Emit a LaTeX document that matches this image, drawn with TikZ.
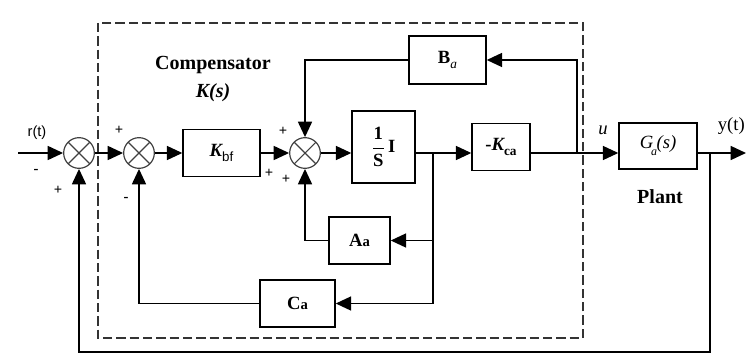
\documentclass[tikz,border=0pt]{standalone}
\usepackage{fontspec}
\setmainfont{Liberation Serif}
\newfontfamily\sansf{Liberation Sans}
\usetikzlibrary{arrows.meta}
\tikzset{
  blk/.style={draw, line width=1.1pt, inner sep=0pt, font=\fontsize{14}{16}\selectfont},
  sumj/.style={circle, draw=black!75, line width=0.9pt, minimum size=23pt, inner sep=0pt,
    path picture={\draw[black!75, line width=0.8pt] (path picture bounding box.north west) -- (path picture bounding box.south east)
      (path picture bounding box.north east) -- (path picture bounding box.south west);}},
  conn/.style={line width=1.1pt},
  arr/.style={line width=1.1pt, -{Triangle[length=11.5pt,width=10.5pt]}},
  sig/.style={font=\fontsize{11}{11}\selectfont\bfseries, inner sep=0pt},
  lbl/.style={font=\fontsize{15}{17}\selectfont\bfseries, inner sep=0pt}
}
\begin{document}
\begin{tikzpicture}[x=0.75pt,y=-0.75pt]
\useasboundingbox (0,0) rectangle (746,360);
% dashed compensator boundary
\draw[line width=1pt, dash pattern=on 7pt off 3pt, black!80] (98,23) rectangle (583,338);
% summing junctions
\node[sumj] (s1) at (79,153) {};
\node[sumj] (s2) at (139,153) {};
\node[sumj] (s3) at (305,153) {};
% blocks
\node[blk, minimum width=57.75pt, minimum height=35.25pt] (kbf) at (221.5,153) {{\bfseries\itshape K}\raisebox{-0.5ex}{\fontsize{10}{10}\selectfont\sansf bf}};
\node[blk, minimum width=47.25pt, minimum height=54pt] (integ) at (383.5,147) {$\displaystyle\frac{\textbf{1}}{\textbf{S}}$\,\textbf{I}};
\node[blk, minimum width=43.5pt, minimum height=35.25pt] (kca) at (501,147) {\textbf{-}{\bfseries\itshape K}\raisebox{-0.5ex}{\fontsize{10}{10}\selectfont\bfseries ca}};
\node[blk, minimum width=58.5pt, minimum height=34.5pt] (G) at (658,146) {\textit{G}\kern-1.5pt\raisebox{-0.8ex}{\fontsize{9}{9}\selectfont\itshape a}\kern-0.5pt\textit{(s)}};
\node[blk, minimum width=57.75pt, minimum height=36pt] (Ba) at (447.5,60) {\textbf{B}\raisebox{-0.6ex}{\fontsize{10}{10}\selectfont\itshape a}};
\node[blk, minimum width=45.75pt, minimum height=35.25pt] (Aa) at (359.5,240.5) {\textbf{A}{\fontsize{11}{11}\selectfont\bfseries a}};
\node[blk, minimum width=56.25pt, minimum height=35.25pt] (Ca) at (297.5,303.5) {\textbf{C}{\fontsize{11}{11}\selectfont\bfseries a}};
% coordinates
\coordinate (rin) at (18,153);
\coordinate (yout) at (746,153);
\coordinate (b1) at (433,153);
\coordinate (b2) at (577,153);
\coordinate (b3) at (710,153);
\coordinate (bot) at (710,352);
% forward path
\draw[arr] (rin) -- (s1.west);
\draw[arr] (s1.east) -- (s2.west);
\draw[arr] (s2.east) -- (kbf.west);
\draw[arr] (kbf.east) -- (s3.west);
\draw[arr] (s3.east) -- (s3.east -| integ.west);
\draw[arr] (integ.east |- s3.center) -- (kca.west |- s3.center);
\draw[arr] (kca.east |- s3.center) -- (G.west |- s3.center);
\draw[arr] (G.east |- s3.center) -- (yout);
% feedback paths
\draw[arr] (b3) -- (bot) -- (bot -| s1) -- (s1.south);
\draw[arr] (b2) |- (Ba.east);
\draw[arr] (Ba.west) -| (s3.north);
\draw[arr] (b1) |- (Aa.east);
\draw[arr] (b1) |- (Ca.east);
\draw[arr] (Aa.west) -| (s3.south);
\draw[arr] (Ca.west) -| (s2.south);
% labels
\node[lbl] (comp) at (213,65) {Compensator};
\node[lbl, font=\fontsize{15}{17}\selectfont\bfseries\itshape] (ks) at (213,93) {K(s)};
\node[lbl] (plant) at (660,197) {Plant};
\node[inner sep=0pt, font=\fontsize{14}{14}\selectfont\itshape] (ulab) at (603,130) {u};
\node[inner sep=0pt, anchor=east, font=\fontsize{14}{14}\selectfont] (ylab) at (745,126) {y(t)};
\node[inner sep=0pt, font=\fontsize{11}{11}\selectfont\sansf] (rlab) at (37,133) {r(t)};
\node[sig] (m1) at (36,171) {-};
\node[sig] (p1) at (58,190) {+};
\node[sig] (p2) at (119,130) {+};
\node[sig] (m2) at (126,199) {-};
\node[sig] (p3) at (283,131) {+};
\node[sig] (p4) at (269,173) {+};
\node[sig] (p5) at (286,179) {+};
\end{tikzpicture}
\end{document}
